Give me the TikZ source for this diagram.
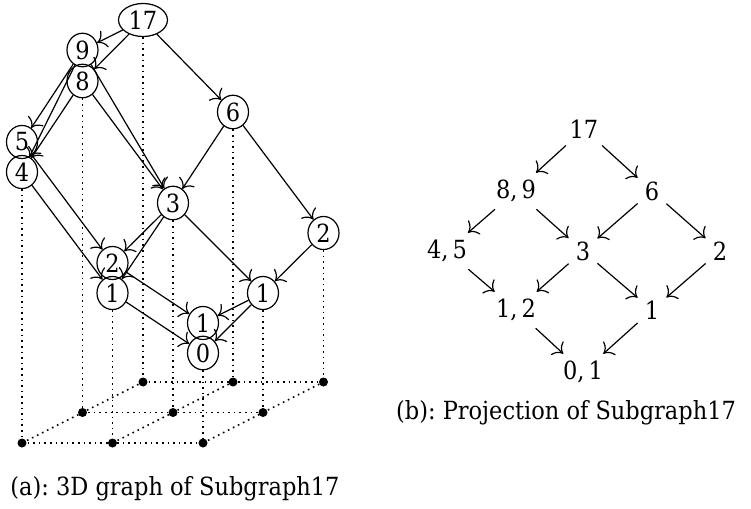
\documentclass[tikz,border=0pt]{standalone}
\usepackage{fontspec}
\setmainfont{DejaVu Serif Condensed}
\usetikzlibrary{shapes.geometric,arrows.meta}
\begin{document}
\begin{tikzpicture}[x=0.5pt,y=-0.5pt,
  font=\fontsize{12.5}{15}\selectfont, line width=0.6pt,
  >={To[scale=1.5]},
  vnode/.style={ellipse,draw,inner xsep=1.5pt,inner ysep=1.2pt,
                minimum width=15.5pt,minimum height=16.5pt},
  pnode/.style={inner sep=0.3333em},
  gridline/.style={dotted,line width=0.8pt},
  gdot/.style={circle,fill,inner sep=0pt,minimum size=4.5pt}]
\useasboundingbox (0,0) rectangle (751,509);

% ground grid
\foreach \n/\x/\y in {f0/22/443,f1/112.5/443,f2/203/443,
                      m0/82.5/412.5,m1/173/412.5,m2/263/412.5,
                      b0/143/382,b1/233/382,b2/323.5/382}
  \coordinate (\n) at (\x,\y);
\draw[gridline] (f0) -- (f1) -- (f2);
\draw[gridline] (m0) -- (m1) -- (m2);
\draw[gridline] (b0) -- (b1) -- (b2);
\draw[gridline] (f0) -- (m0) -- (b0);
\draw[gridline] (f1) -- (m1) -- (b1);
\draw[gridline] (f2) -- (m2) -- (b2);

% 3D graph nodes
\node[vnode] (n17) at (143,20) {17};
\node[vnode] (n9) at (82.5,50) {9};
\node[vnode] (n8) at (82.5,81) {8};
\node[vnode] (n5) at (22,142) {5};
\node[vnode] (n4) at (22,172) {4};
\node[vnode] (n6) at (233,112) {6};
\node[vnode] (n3) at (173,203) {3};
\node[vnode] (n2l) at (112.5,263) {2};
\node[vnode] (n1l) at (112.5,293) {1};
\node[vnode] (n2r) at (323.5,233) {2};
\node[vnode] (n1r) at (263,293) {1};
\node[vnode] (n1b) at (203,323) {1};
\node[vnode] (n0) at (203,353) {0};

% vertical projection lines
\draw[gridline] (n17.south) -- (b0);
\draw[gridline] (n8.south) -- (m0);
\draw[gridline] (n4.south) -- (f0);
\draw[gridline] (n6.south) -- (b1);
\draw[gridline] (n3.south) -- (m1);
\draw[gridline] (n1l.south) -- (f1);
\draw[gridline] (n2r.south) -- (b2);
\draw[gridline] (n1r.south) -- (m2);
\draw[gridline] (n0.south) -- (f2);

\foreach \n in {f0,f1,f2,m0,m1,m2,b0,b1,b2}
  \node[gdot] (d\n) at (\n) {};

% 3D graph edges
\foreach \a/\b in {n17/n9,n17/n8,n17/n6,n9/n5,n9/n4,n8/n4,n9/n3,n8/n3,
                   n6/n3,n6/n2r,n5/n2l,n4/n1l,n3/n2l,n3/n1l,n3/n1r,
                   n2r/n1r,n2l/n1b,n1l/n0,n1r/n1b,n1r/n0}
  \draw[->] (\a) -- (\b);

% projection
\node[pnode] (p17) at (584,129) {17};
\node[pnode] (p89) at (516,191) {8,\,9};
\node[pnode] (p6) at (652,191) {6};
\node[pnode] (p45) at (447,251) {4,\,5};
\node[pnode] (p3) at (583,251) {3};
\node[pnode] (p2) at (720,251) {2};
\node[pnode] (p12) at (516,310) {1,\,2};
\node[pnode] (p1) at (652,310) {1};
\node[pnode] (p01) at (583,372) {0,\,1};
\foreach \a/\b in {p17/p89,p17/p6,p89/p45,p89/p3,p6/p3,p6/p2,
                   p45/p12,p3/p12,p3/p1,p2/p1,p12/p01,p1/p01}
  \draw[->] (\a) -- (\b);

% captions
\node (capa) at (175,489) {(a):\ 3D graph of Subgraph17};
\node (capb) at (566,413) {(b):\ Projection of Subgraph17};
\end{tikzpicture}
\end{document}
